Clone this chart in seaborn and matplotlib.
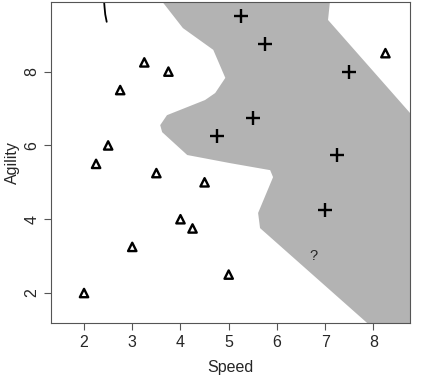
import matplotlib
matplotlib.use('Agg')
import matplotlib.pyplot as plt
import seaborn as sns
import pandas as pd

# training points
tri_speed = [2.0, 3.0, 4.0, 4.25, 4.5, 3.5, 2.25, 2.5, 2.75, 3.25, 3.75, 5.0, 8.25]
tri_agility = [2.0, 3.25, 4.0, 3.75, 5.0, 5.25, 5.5, 6.0, 7.5, 8.25, 8.0, 2.5, 8.5]
plus_speed = [5.25, 5.75, 7.5, 4.75, 5.5, 7.25, 7.0]
plus_agility = [9.5, 8.75, 8.0, 6.25, 6.75, 5.75, 4.25]
query_speed, query_agility = 6.75, 3.0

# decision region outline (grey area)
region_x = [3.62, 3.62, 4.05, 4.68, 4.93, 4.72, 4.51, 3.72, 3.58, 3.62, 4.14, 5.03, 5.86, 5.92,
            5.61, 5.65, 7.87, 9.0, 9.0, 8.76, 7.06, 7.10, 7.10]
region_y = [10.2, 9.9, 9.18, 8.59, 7.83, 7.42, 7.23, 6.82, 6.55, 6.36, 5.74, 5.52, 5.33, 5.14,
            4.17, 3.76, 1.19, 0.5, 6.88, 6.88, 9.40, 9.9, 10.2]

# bit of a curve at the top left
arc_x = [2.41, 2.425, 2.44, 2.47]
arc_y = [10.0, 9.75, 9.55, 9.35]

xticks = [2, 3, 4, 5, 6, 7, 8]
yticks = [2, 4, 6, 8]

sns.set_style('ticks')
plt.rcParams['font.family'] = ['Liberation Sans', 'DejaVu Sans']

df_tri = pd.DataFrame({'Speed': tri_speed, 'Agility': tri_agility})
df_plus = pd.DataFrame({'Speed': plus_speed, 'Agility': plus_agility})

fig = plt.figure(figsize=(4.27, 3.76), dpi=100)
ax = fig.add_axes([51 / 427, 1 - 323.3 / 376, 359 / 427, 321.8 / 376])

ax.fill(region_x, region_y, color='#b3b3b3', lw=0, zorder=0)
ax.plot(arc_x, arc_y, color='black', lw=1.3)

sns.scatterplot(data=df_tri, x='Speed', y='Agility', marker='^', s=36,
                facecolor='none', edgecolor='black', linewidth=1.7, ax=ax, zorder=3)
sns.scatterplot(data=df_plus, x='Speed', y='Agility', marker='+', s=95,
                color='black', linewidth=1.7, ax=ax, zorder=3)
ax.text(query_speed, query_agility, '?', fontsize=10.5, ha='center', va='center')

ax.set_xlim(1.315, 8.76)
ax.set_ylim(1.18, 9.9)
ax.set_xticks(xticks)
ax.set_yticks(yticks)
ax.tick_params(length=5, width=0.8, color='#555555', labelsize=11.5, pad=3.5)
ax.tick_params(axis='y', labelrotation=90)
for lab in ax.get_yticklabels():
    lab.set_va('center')
for sp in ax.spines.values():
    sp.set_visible(True)
    sp.set_color('#555555')
    sp.set_linewidth(0.8)
ax.set_xlabel('Speed', fontsize=11.5, labelpad=7)
ax.set_ylabel('Agility', fontsize=11.5, labelpad=3)

fig.savefig('out.png', dpi=100)
